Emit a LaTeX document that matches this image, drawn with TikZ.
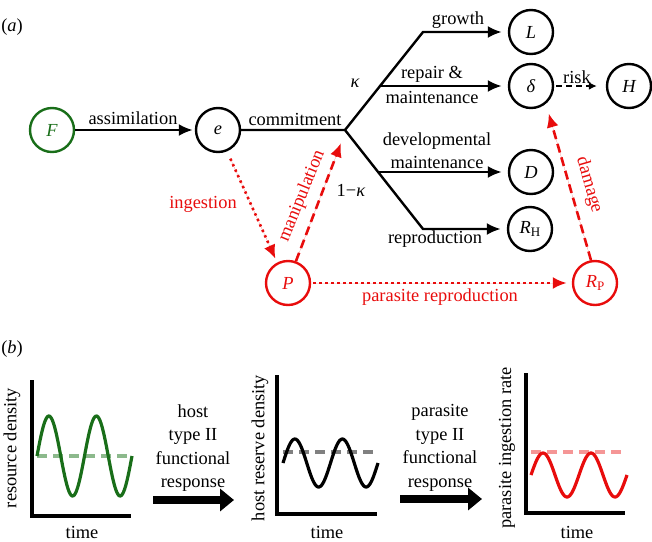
\documentclass[tikz,border=0pt]{standalone}
\usepackage{fontspec}
\setmainfont{Liberation Serif}
\usetikzlibrary{arrows.meta}

\definecolor{hostgreen}{RGB}{25,110,25}
\definecolor{parared}{RGB}{232,12,12}
\definecolor{palegreen}{RGB}{140,185,140}
\definecolor{palered}{RGB}{245,150,150}
\definecolor{midgray}{RGB}{128,128,128}

\newcommand{\figfont}{\fontsize{18.4}{22}\selectfont}
\newcommand{\subup}[1]{\raisebox{-3pt}{\fontsize{13}{13}\selectfont\upshape #1}}

\tikzset{
  state/.style={circle, draw, line width=2.4pt, minimum size=44pt, inner sep=0pt, font=\figfont\itshape},
  flow/.style={->, line width=2.4pt},
  riskflow/.style={-{Latex[length=8pt,width=8pt]}, line width=2.4pt, dash pattern=on 6pt off 4pt},
  paradash/.style={->, line width=2.6pt, draw=parared, fill=parared, dash pattern=on 9pt off 5pt},
  paradot/.style={->, line width=2.6pt, draw=parared, fill=parared, dash pattern=on 2.4pt off 3.6pt},
  redtext/.style={text=parared},
  axisline/.style={line width=3.5pt},
  wave/.style={line width=3.2pt},
  meanline/.style={line width=3.5pt, dash pattern=on 10pt off 6pt},
  bigarrow/.style={-{Triangle[length=14pt,width=22pt]}, line width=8pt},
  stack/.style={align=center, font=\fontsize{18.4}{23.5}\selectfont},
}

\begin{document}
\begin{tikzpicture}[>={Latex[length=14pt,width=12pt]}, line join=miter, x=1pt, y=-1pt, font=\figfont]
\useasboundingbox (0,0) rectangle (652,541);
%% (a) energy budget
  % Node: F
  \node[state, draw=hostgreen, text=hostgreen] (F) at (52,130) {F};
  % Node: e
  \node[state] (e) at (218,130) {e};
  % Node: L
  \node[state] (L) at (531,32) {L};
  % Node: delta
  \node[state] (delta) at (531,86) {δ};
  % Node: H
  \node[state] (H) at (629,86) {H};
  % Node: D
  \node[state] (D) at (531,172) {D};
  % Node: RH
  \node[state] (RH) at (530,229) {R\subup{H}};
  % Node: P
  \node[state, draw=parared, text=parared] (P) at (288,283) {P};
  % Node: RP
  \node[state, draw=parared, text=parared] (RP) at (595,283) {R\subup{P}};
  % branch points
  \coordinate (fork) at (345,130);
  \coordinate (upbend) at (423,32);
  \coordinate (lowbend) at (423,229);
  \coordinate (repfork) at (380,86);
  \coordinate (devfork) at (379,172);
  \coordinate (maniptip) at (341,143);
  % Edge: F -> e
  \draw[flow, shorten >=2pt] (F) -- (e);
  \node (lbassim) at (133,118) {assimilation};
  % Edge: e -> L
  \draw[flow, shorten >=6pt] (e) -- (fork) -- (upbend) -- (L);
  \node (lbcommit) at (295,119) {commitment};
  \node (lbgrowth) at (458,20) {growth};
  \node (lbkappa) at (355,83) {\itshape κ};
  % Edge: fork -> RH
  \draw[flow, shorten >=6pt] (fork) -- (lowbend) -- (RH);
  \node (lbonekappa) at (351,190) {1−\textit{κ}};
  \node (lbrepro) at (435,239) {reproduction};
  % Edge: repair -> delta
  \draw[flow, shorten >=6pt] (repfork) -- (delta);
  \node (lbrepair) at (432,74) {repair \&};
  \node (lbmaint) at (432,97) {maintenance};
  % Edge: developmental -> D
  \draw[flow, shorten >=6pt] (devfork) -- (D);
  \node (lbdevel) at (437,141) {developmental};
  \node (lbdevmaint) at (437,162) {maintenance};
  % Edge: delta -> H
  \draw[riskflow, shorten <=2pt, shorten >=9pt] (delta) -- (H);
  \node (lbrisk) at (577,77) {risk};
  % Edge: e -> P
  \draw[paradot, shorten <=8pt, shorten >=4pt] (e.-67) -- (P.118);
  \node[redtext] (lbingest) at (203,204) {ingestion};
  % Edge: P -> fork
  \draw[paradash] (P.70) -- (maniptip);
  \node[redtext, rotate=67.8] (lbmanip) at (302,196) {manipulation};
  % Edge: P -> RP
  \draw[paradot, shorten <=2pt, shorten >=5pt] (P) -- (RP);
  \node[redtext] (lbparepro) at (440,297) {parasite reproduction};
  % Edge: RP -> delta
  \draw[paradash, shorten >=10pt] (RP.100) -- (delta.-50);
  \node[redtext, rotate=-73.8] (lbdamage) at (589,185) {damage};
  \node (lba) at (12,27) {(\textit{a})};
%% (b) forcing chain
  \node (lbb) at (12,349) {(\textit{b})};
  % Plot: resource
  \draw[meanline, palegreen] (37,456) -- (132,456);
  \draw[wave, hostgreen] plot[domain=37:132, samples=90, smooth] (\x, {456-40*sin((\x-37)/47.5*360)});
  \draw[axisline] (32,380) -- (32,516) -- (131,516);
  \node[rotate=90] (ylres) at (12,448) {resource density};
  \node (xlres) at (82,532) {time};
  % Edge: resource -> reserve
  \coordinate (hostarrs) at (153,500);
  \coordinate (hostarre) at (234,500);
  \draw[bigarrow] (hostarrs) -- (hostarre);
  \node[stack] (lbhostfr) at (193,448) {host\\type II\\functional\\response};
  % Plot: reserve
  \draw[meanline, midgray] (283,452) -- (378,452);
  \draw[wave] plot[domain=283:378, samples=90, smooth] (\x, {463-24*sin((\x-283)/47.5*360)});
  \draw[axisline] (277,375) -- (277,514) -- (377,514);
  \node[rotate=90] (ylhost) at (260,448) {host reserve density};
  \node (xlhost) at (327,532) {time};
  % Edge: reserve -> ingestion
  \coordinate (paraarrs) at (400,499);
  \coordinate (paraarre) at (482,499);
  \draw[bigarrow] (paraarrs) -- (paraarre);
  \node[stack] (lbparafr) at (440,448) {parasite\\type II\\functional\\response};
  % Plot: ingestion
  \draw[meanline, palered] (531,452) -- (627,452);
  \draw[wave, parared] plot[domain=531:627, samples=90, smooth] (\x, {475-22*sin((\x-531)/48*360)});
  \draw[axisline] (526,373) -- (526,513) -- (625,513);
  \node[rotate=90] (ylpara) at (507,448) {parasite ingestion rate};
  \node (xlpara) at (577,532) {time};
\end{tikzpicture}
\end{document}
